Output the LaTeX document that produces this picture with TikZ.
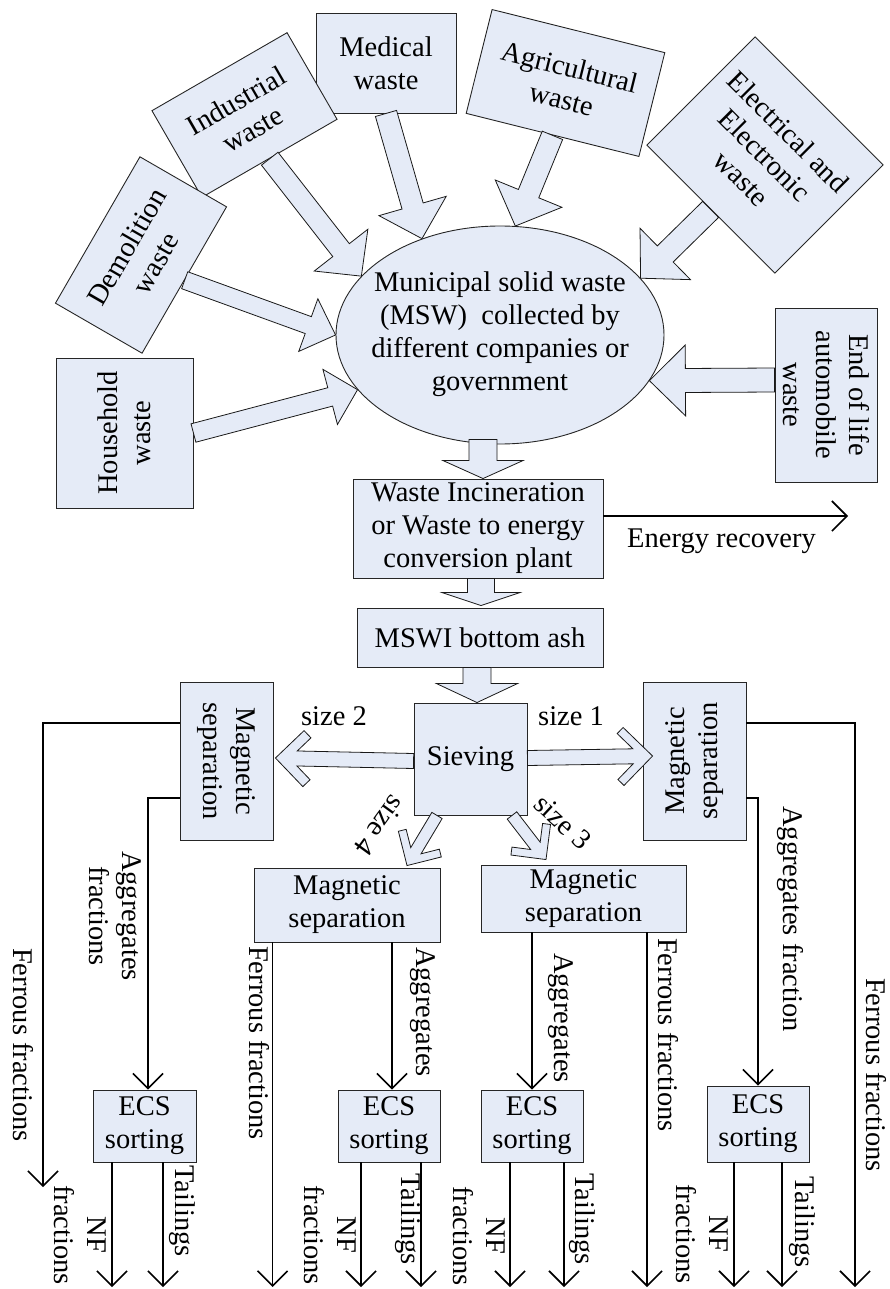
\documentclass[tikz,border=0pt]{standalone}
\usepackage{fontspec}
\setmainfont{Liberation Serif}
\usetikzlibrary{calc,arrows.meta,shapes.geometric}
\definecolor{boxfill}{RGB}{229,235,247}

% fat block arrow: #1 start, #2 tip, #3 shaft half width, #4 head half width, #5 head length
\newcommand{\blockarrow}[5]{%
  \coordinate (BAn) at ($(#2)!#5pt!(#1)$);
  \draw[barrow] ($(#1)!#3pt!90:(#2)$) -- ($(BAn)!#3pt!90:(#2)$) -- ($(BAn)!#4pt!90:(#2)$) -- (#2)
    -- ($(BAn)!#4pt!-90:(#2)$) -- ($(BAn)!#3pt!-90:(#2)$) -- ($(#1)!#3pt!-90:(#2)$) -- cycle;}

% chevron-headed arrow: #1 start, #2 tip, #3 shaft half width, #4 barb size, #5 barb thickness
\newcommand{\chevarrow}[5]{%
  \pgfmathsetmacro\cvi{#4+#5*0.7071}%
  \pgfmathsetmacro\cvil{#4-#5*0.7071}%
  \pgfmathsetmacro\cvn{1.4142*#5+#3}%
  \coordinate (CVo) at ($(#2)!#4pt!(#1)$);
  \coordinate (CVi) at ($(#2)!\cvi pt!(#1)$);
  \coordinate (CVn) at ($(#2)!\cvn pt!(#1)$);
  \draw[barrow] ($(#1)!#3pt!90:(#2)$) -- ($(CVn)!#3pt!90:(#2)$) -- ($(CVi)!\cvil pt!90:(#2)$)
    -- ($(CVo)!#4pt!90:(#2)$) -- (#2) -- ($(CVo)!#4pt!-90:(#2)$) -- ($(CVi)!\cvil pt!-90:(#2)$)
    -- ($(CVn)!#3pt!-90:(#2)$) -- ($(#1)!#3pt!-90:(#2)$) -- cycle;}

\begin{document}
\begin{tikzpicture}[x=1pt,y=-1pt,
  every node/.style={font=\fontsize{28.5}{33}\selectfont, align=center, inner sep=0pt},
  box/.style={draw=black!85, line width=0.9pt, fill=boxfill},
  barrow/.style={draw=black!90, line width=0.8pt, fill=boxfill, line join=miter},
  conn/.style={line width=1.6pt, -{Straight Barb[length=15pt,width=30pt]}}]
\useasboundingbox (0,0) rectangle (889,1289);

% source boxes
\node[box, minimum width=140pt, minimum height=100pt] (med) at (386,63) {Medical\\waste};
\node[box, minimum width=156pt, minimum height=100pt, rotate=30] (ind) at (244.5,115) {Industrial\\waste};
\node[box, minimum width=169pt, minimum height=100pt, rotate=60] (dem) at (141,255) {Demolition\\waste};
\node[box, minimum width=150pt, minimum height=137pt, rotate=90] (hh) at (124.5,433) {Household\\waste};
\node[box, minimum width=178pt, minimum height=107pt, rotate=-14] (agr) at (565.5,83) {Agricultural\\waste};
\node[box, minimum width=181pt, minimum height=153pt, rotate=-45] (ele) at (765,155) {Electrical and\\Electronic\\waste};
\node[box, minimum width=174pt, minimum height=102pt, rotate=-90] (eol) at (826,395) {End of life\\automobile\\waste};

% MSW ellipse
\node[box, ellipse, minimum width=328pt, minimum height=218pt] (msw) at (500,335) {};
\node (mswt) at (500,334) {Municipal solid waste\\(MSW)\ \ collected by\\different companies or\\government};

% process chain
\node[box, minimum width=250pt, minimum height=99pt] (inc) at (478,528.5) {Waste Incineration\\or Waste to energy\\conversion plant};
\node[box, minimum width=246pt, minimum height=59pt] (mswi) at (480,637.5) {MSWI bottom ash};
\node[box, minimum width=113pt, minimum height=112pt] (siev) at (470.5,759) {Sieving};
\node[box, minimum width=158pt, minimum height=93pt, rotate=-90] (lm) at (226.5,761) {Magnetic\\separation};
\node[box, minimum width=158pt, minimum height=103pt, rotate=90] (rm) at (694.5,761) {Magnetic\\separation};
\node[box, minimum width=186pt, minimum height=74pt] (ml) at (347,905) {Magnetic\\separation};
\node[box, minimum width=205pt, minimum height=67pt] (mr) at (583.5,898.5) {Magnetic\\separation};
\node[box, minimum width=103pt, minimum height=72pt] (ecs1) at (144.5,1126) {ECS\\sorting};
\node[box, minimum width=102pt, minimum height=72pt] (ecs2) at (389,1126) {ECS\\sorting};
\node[box, minimum width=102pt, minimum height=72pt] (ecs3) at (532,1126) {ECS\\sorting};
\node[box, minimum width=102pt, minimum height=76pt] (ecs4) at (758,1124) {ECS\\sorting};

% fat arrows into MSW
\blockarrow{ind.south}{msw.157}{10.5}{34}{33}
\blockarrow{med.south}{msw.129}{11}{35}{34}
\blockarrow{agr.south}{msw.82}{11}{36}{35}
\blockarrow{ele.south}{msw.22}{11.3}{36}{34.6}
\blockarrow{dem.south}{msw.180}{9}{28}{29}
\blockarrow{hh.south}{msw.201}{9.5}{28.5}{28.3}
\coordinate (eolA) at ($(eol.south)+(0,-15)$);
\blockarrow{eolA}{msw.343}{12}{35.5}{36}

% fat arrows down the chain
\coordinate (e2iB) at ($(inc.north)+(5,0)$);
\coordinate (e2iA) at ($(e2iB)+(0,-39)$);
\blockarrow{e2iA}{e2iB}{14}{40}{18}
\coordinate (i2mB) at ($(mswi.north)+(1,-2)$);
\coordinate (i2mA) at (inc.south -| i2mB);
\blockarrow{i2mA}{i2mB}{13.5}{39}{13}
\coordinate (m2sB) at ($(siev.north)+(6.5,0)$);
\coordinate (m2sA) at (mswi.south -| m2sB);
\blockarrow{m2sA}{m2sB}{14}{40.5}{19}

% sieving outputs
\coordinate (s2A) at ($(siev.west)+(0,2)$);
\coordinate (s2B) at ($(lm.north)+(2,-3)$);
\chevarrow{s2A}{s2B}{7.5}{28}{10}
\coordinate (s1A) at ($(siev.east)+(0,-1)$);
\coordinate (s1B) at ($(rm.north)+(10,-5)$);
\chevarrow{s1A}{s1B}{7.5}{29}{8.5}
\coordinate (s4A) at ($(siev.south)+(-33.5,0)$);
\coordinate (s4B) at ($(ml.north)+(60,-2)$);
\chevarrow{s4A}{s4B}{6}{25}{8}
\coordinate (s3A) at ($(siev.south)+(41.5,0)$);
\coordinate (s3B) at ($(mr.north)+(-37.5,-5)$);
\chevarrow{s3A}{s3B}{6}{25}{8}

\node (lbS2) at (334,716) {size 2};
\node (lbS1) at (571,716) {size 1};
\node[rotate=-126] (lbS4) at (380,826) {size 4};
\node[rotate=-43] (lbS3) at (563,822) {size 3};

% energy recovery
\coordinate (erS) at ($(inc.east)+(0,-12.5)$);
\coordinate (erE) at (848,516);
\draw[conn] (erS) -- (erE);
\node (lbE) at (721.5,541) {Energy recovery};

% thin connectors
\coordinate (bot) at (0,1287);
\coordinate (lmF) at ($(lm.south)+(0,-38)$);
\coordinate (lmFE) at (43,1187);
\draw[conn] (lmF) -| (lmFE);
\coordinate (lmA) at ($(lm.south)+(0,37)$);
\coordinate (e1in) at ($(ecs1.north)+(3.5,0)$);
\draw[conn] (lmA) -| (e1in);
\coordinate (rmF) at ($(rm.south)+(0,-38)$);
\coordinate (rmFE) at (855,1287);
\draw[conn] (rmF) -| (rmFE);
\coordinate (rmA) at ($(rm.south)+(0,37)$);
\draw[conn] (rmA) -| (ecs4.north);
\coordinate (mlF) at ($(ml.south west)+(19,0)$);
\draw[conn] (mlF) -- (mlF |- bot);
\coordinate (mlA) at ($(ml.south)+(45,0)$);
\draw[conn] (mlA) -- (mlA |- ecs2.north);
\coordinate (mrA) at (ecs3.north |- mr.south);
\draw[conn] (mrA) -- (ecs3.north);
\coordinate (mrF) at ($(mr.south)+(63.5,0)$);
\draw[conn] (mrF) -- (mrF |- bot);

\coordinate (n1) at ($(ecs1.south)+(-32.5,0)$);
\coordinate (t1) at ($(ecs1.south)+(18.5,0)$);
\coordinate (n2) at ($(ecs2.south)+(-28,0)$);
\coordinate (t2) at ($(ecs2.south)+(32,0)$);
\coordinate (n3) at ($(ecs3.south)+(-22,0)$);
\coordinate (t3) at ($(ecs3.south)+(32,0)$);
\coordinate (n4) at ($(ecs4.south)+(-24,0)$);
\coordinate (t4) at ($(ecs4.south)+(24,0)$);
\draw[conn] (n1) -- (n1 |- bot);
\draw[conn] (t1) -- (t1 |- bot);
\draw[conn] (n2) -- (n2 |- bot);
\draw[conn] (t2) -- (t2 |- bot);
\draw[conn] (n3) -- (n3 |- bot);
\draw[conn] (t3) -- (t3 |- bot);
\draw[conn] (n4) -- (n4 |- bot);
\draw[conn] (t4) -- (t4 |- bot);

% labels
\node[rotate=-90] (lbFF1) at (23,1045) {Ferrous fractions};
\node[rotate=-90] (lbAF1) at (115.5,916) {Aggregates\\fractions};
\node[rotate=-90] (lbNF1) at (80.5,1235) {NF\\fractions};
\node[rotate=-90] (lbT1) at (182,1211) {Tailings};
\node[rotate=-90] (lbFF2) at (259,1043) {Ferrous fractions};
\node[rotate=-90] (lbA2) at (422.5,1012) {Aggregates};
\node[rotate=-90] (lbNF2) at (330.5,1235) {NF\\fractions};
\node[rotate=-90] (lbT2) at (408,1219) {Tailings};
\node[rotate=-90] (lbA3) at (561,1018) {Aggregates};
\node[rotate=-90] (lbFF3) at (668,1035) {Ferrous fractions};
\node[rotate=-90] (lbNF3) at (479,1236) {NF\\fractions};
\node[rotate=-90] (lbT3) at (582,1219) {Tailings};
\node[rotate=-90] (lbAF4) at (790,919) {Aggregates fraction};
\node[rotate=-90] (lbFF4) at (876,1075) {Ferrous fractions};
\node[rotate=-90] (lbNF4) at (702,1234) {NF\\fractions};
\node[rotate=-90] (lbT4) at (802,1222) {Tailings};
\end{tikzpicture}
\end{document}
